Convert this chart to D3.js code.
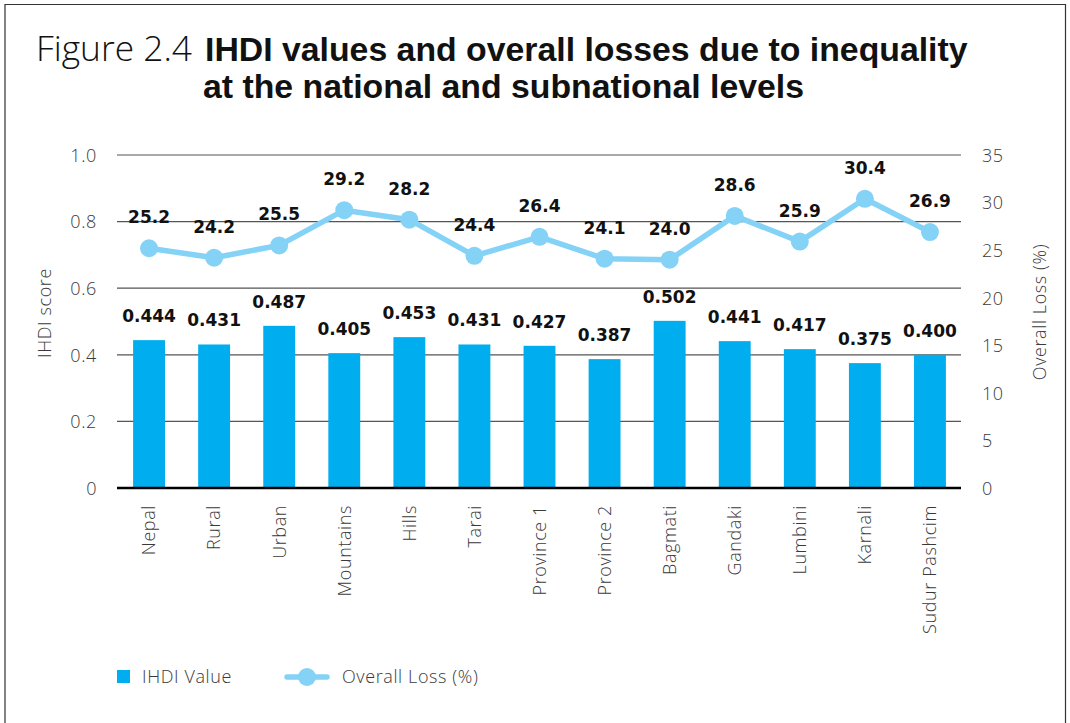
<!DOCTYPE html>
<html>
<head>
<meta charset="utf-8">
<script src="https://cdn.jsdelivr.net/npm/d3@7"></script>
<style>
	body { margin: 0; background: #fff; }
	svg text { font-family: "Open Sans", "Lato", sans-serif; }
	.tick-label { font-size: 18px; fill: #3a3a3a; font-weight: 300; letter-spacing: 0.6px; }
	.val { font-family: "DejaVu Sans", sans-serif !important; font-size: 17px; font-weight: 700; fill: #111; }
</style>
</head>
<body>
<div id="chart"></div>
<script>
// data
var regions = ["Nepal", "Rural", "Urban", "Mountains", "Hills", "Tarai", "Province 1", "Province 2", "Bagmati", "Gandaki", "Lumbini", "Karnali", "Sudur Pashcim"];
var ihdi = [0.444, 0.431, 0.487, 0.405, 0.453, 0.431, 0.427, 0.387, 0.502, 0.441, 0.417, 0.375, 0.400];
var loss = [25.2, 24.2, 25.5, 29.2, 28.2, 24.4, 26.4, 24.1, 24.0, 28.6, 25.9, 30.4, 26.9];
var leftTicks = [0, 0.2, 0.4, 0.6, 0.8, 1.0];
var rightTicks = [0, 5, 10, 15, 20, 25, 30, 35];

var width = 1070, height = 723;
var barColor = "#00adee", lineColor = "#84d2f6";

var svg = d3.select("#chart").append("svg")
	.attr("width", width)
	.attr("height", height);

// shrink / grow font so a text fills the width it has in the figure
function fitWidth(sel, w) {
	var fs = parseFloat(sel.style("font-size"));
	var len = sel.node().getComputedTextLength();
	sel.style("font-size", (fs * w / len) + "px");
}

// frame
svg.append("path")
	.attr("d", "M5,723 V4.5 H1065.5 V723")
	.attr("fill", "none")
	.attr("stroke", "#333")
	.attr("stroke-width", 1.2);

// title
var t1 = svg.append("text").attr("x", 36).attr("y", 61)
	.style("font-size", "30px").style("font-weight", 300).style("fill", "#111")
	.text("Figure 2.4");
fitWidth(t1, 156);
var t2 = svg.append("text").attr("x", 205).attr("y", 61)
	.style("font-family", "'Liberation Sans', Arial, sans-serif").style("font-size", "30px").style("font-weight", 700).style("fill", "#111")
	.text("IHDI values and overall losses due to inequality");
fitWidth(t2, 763);
var t3 = svg.append("text").attr("x", 203).attr("y", 98)
	.style("font-family", "'Liberation Sans', Arial, sans-serif").style("font-size", "30px").style("font-weight", 700).style("fill", "#111")
	.text("at the national and subnational levels");
t3.style("font-size", t2.style("font-size"));

var x = d3.scaleBand().domain(regions).range([116.5, 962.5]).padding(0);
var y = d3.scaleLinear().domain([0, 1]).range([488, 155]);
var y2 = d3.scaleLinear().domain([0, 35]).range([488, 155]);
var barW = x.bandwidth() * 0.49;

// gridlines
svg.append("g").selectAll("line").data(leftTicks.slice(1)).join("line")
	.attr("x1", 117).attr("x2", 961)
	.attr("y1", function(d){ return y(d); }).attr("y2", function(d){ return y(d); })
	.attr("stroke", "#555").attr("stroke-width", 1.2);

// left axis labels
var leftAxis = d3.axisLeft(y).tickValues(leftTicks).tickSize(0).tickPadding(0)
	.tickFormat(function(d){ return d == 0 ? "0" : d3.format(".1f")(d); });
var la = svg.append("g").attr("transform", "translate(97,0)").call(leftAxis);
la.select(".domain").remove();
la.selectAll("text").attr("class", "tick-label").attr("dy", "0.35em");

var rightAxis = d3.axisRight(y2).tickValues(rightTicks).tickSize(0).tickPadding(0);
var ra = svg.append("g").attr("transform", "translate(982,0)").call(rightAxis);
ra.select(".domain").remove();
ra.selectAll("text").attr("class", "tick-label").attr("dy", "0.35em");

// bars
svg.append("g").selectAll("rect").data(ihdi).join("rect")
	.attr("x", function(d, i){ return x(regions[i]) + x.bandwidth()/2 - barW/2; })
	.attr("y", function(d){ return y(d); })
	.attr("width", barW)
	.attr("height", function(d){ return y(0) - y(d); })
	.attr("fill", barColor);

// zero line
svg.append("line").attr("x1", 117).attr("x2", 961).attr("y1", y(0)).attr("y2", y(0))
	.attr("stroke", "#000").attr("stroke-width", 2.5);

// bar labels
svg.append("g").selectAll("text").data(ihdi).join("text")
	.attr("class", "val")
	.attr("text-anchor", "middle")
	.attr("x", function(d, i){ return x(regions[i]) + x.bandwidth()/2; })
	.attr("y", function(d){ return y(d) - 18; })
	.text(function(d){ return d3.format(".3f")(d); });

// loss line
var line = d3.line()
	.x(function(d, i){ return x(regions[i]) + x.bandwidth()/2; })
	.y(function(d){ return y2(d); });
svg.append("path").datum(loss)
	.attr("d", line)
	.attr("fill", "none")
	.attr("stroke", lineColor)
	.attr("stroke-width", 5.5)
	.attr("stroke-linejoin", "round");
svg.append("g").selectAll("circle").data(loss).join("circle")
	.attr("cx", function(d, i){ return x(regions[i]) + x.bandwidth()/2; })
	.attr("cy", function(d){ return y2(d); })
	.attr("r", 9)
	.attr("fill", lineColor);
svg.append("g").selectAll("text").data(loss).join("text")
	.attr("class", "val")
	.attr("text-anchor", "middle")
	.attr("x", function(d, i){ return x(regions[i]) + x.bandwidth()/2; })
	.attr("y", function(d){ return y2(d) - 25; })
	.text(function(d){ return d3.format(".1f")(d); });

// category labels
svg.append("g").selectAll("text").data(regions).join("text")
	.attr("class", "tick-label")
	.attr("text-anchor", "end")
	.attr("transform", function(d){ return "translate(" + (x(d) + x.bandwidth()/2) + ",505) rotate(-90)"; })
	.attr("dy", "0.35em")
	.text(function(d){ return d; });

// axis titles
svg.append("text").attr("class", "tick-label")
	.attr("transform", "translate(45,313) rotate(-90)")
	.attr("text-anchor", "middle").attr("dy", "0.35em")
	.text("IHDI score");
svg.append("text").attr("class", "tick-label")
	.attr("transform", "translate(1040,312) rotate(-90)")
	.attr("text-anchor", "middle").attr("dy", "0.35em")
	.text("Overall Loss (%)");

// legend
var legend = svg.append("g");
legend.append("rect").attr("x", 117).attr("y", 670).attr("width", 13).attr("height", 13).attr("fill", barColor);
legend.append("text").attr("class", "tick-label").attr("x", 142).attr("y", 677).attr("dy", "0.35em").text("IHDI Value");
legend.append("line").attr("x1", 287).attr("x2", 327).attr("y1", 677).attr("y2", 677)
	.attr("stroke", lineColor).attr("stroke-width", 5.5).attr("stroke-linecap", "round");
legend.append("circle").attr("cx", 307).attr("cy", 677).attr("r", 9).attr("fill", lineColor);
legend.append("text").attr("class", "tick-label").attr("x", 342).attr("y", 677).attr("dy", "0.35em").text("Overall Loss (%)");
</script>
</body>
</html>
